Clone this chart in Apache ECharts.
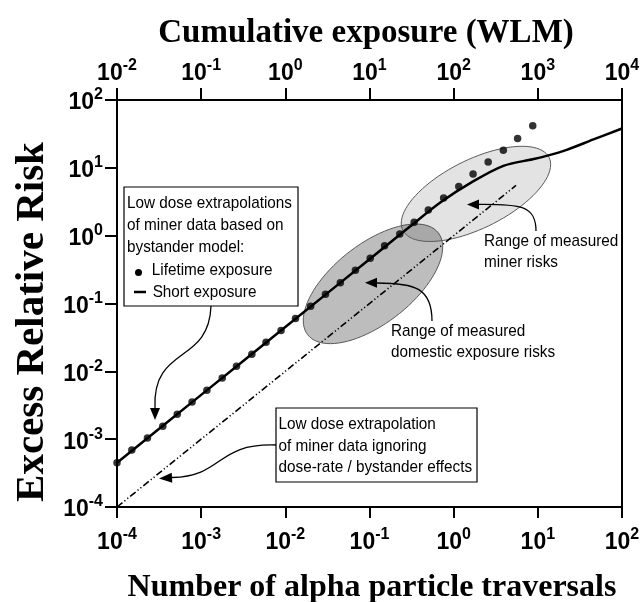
<!DOCTYPE html>
<html><head><meta charset="utf-8">
<script src="https://cdn.jsdelivr.net/npm/echarts@6/dist/echarts.min.js"></script>
<style>html,body{margin:0;padding:0;background:#fff}#c{width:644px;height:602px}</style>
</head><body><div id="c"></div>
<script>
// ---- data ----
const traversalTickLabels = ['-4','-3','-2','-1','0','1','2'];   // 10^n, alpha traversals
const wlmTickLabels = ['-2','-1','0','1','2','3','4'];           // 10^n, WLM
const riskTickLabels = ['-4','-3','-2','-1','0','1','2'];        // 10^n, ERR

// Lifetime exposure (dots)
const lifetimeX = [1.0e-4,1.5e-4,2.3e-4,3.5e-4,5.2e-4,7.8e-4,1.17e-3,1.78e-3,2.63e-3,4.0e-3,5.9e-3,8.9e-3,
  0.0132,0.020,0.030,0.045,0.068,0.102,0.151,0.229,0.339,0.50,0.76,1.15,1.70,2.57,3.89,5.75,8.7];
const lifetimeY = [4.5e-4,6.9e-4,1.04e-3,1.55e-3,2.33e-3,3.54e-3,5.26e-3,8.0e-3,0.0119,0.0179,0.0269,0.040,
  0.060,0.091,0.137,0.203,0.31,0.466,0.71,1.06,1.58,2.40,3.6,5.3,8.1,12.2,18.2,27.1,41.6];

// Short exposure (solid curve)
const shortX = [1e-4,1e-3,1e-2,0.1,0.3,0.7,1.7,3.9,8.7,12.7,22,45,100];
const shortY = [4.5e-4,4.5e-3,0.045,0.45,1.35,3.1,6.3,10.7,13.4,15.0,18.4,26,38];

// Extrapolation ignoring dose-rate / bystander effects
const linearX = [1e-4,5.5];
const linearY = [1e-4,5.5];

// Measured ranges: [centerX, centerY, majorTipX, majorTipY, minor/major]
const domesticRange = [0.11,0.195,0.656,1.10,0.48];
const minerRange = [1.84,4.13,13.6,14.2,0.42];

// ---- chart ----
const SANS = '"Liberation Sans", Arial, sans-serif';
const SERIF = '"Liberation Serif", "Times New Roman", serif';
function rich() {
  return {
    b: {fontFamily: SANS, fontWeight: 'bold', fontSize: 23, lineHeight: 26, padding: [6,0,0,0], color: '#000'},
    s: {fontFamily: SANS, fontWeight: 'bold', fontSize: 16, lineHeight: 16, verticalAlign: 'top', color: '#000'}
  };
}
function fmt(labels, minExp) {
  return function (v) {
    const e = Math.round(Math.log10(v));
    return '{b|10}{s|' + labels[e - minExp] + '}';
  };
}
const axisLineStyle = {lineStyle: {color: '#000', width: 2}};
const zip = (a, b) => a.map((v, i) => [v, b[i]]);

const chart = echarts.init(document.getElementById('c'), null, {renderer: 'canvas'});

function ellipseItem(params, api) {
  const c = api.coord([api.value(0), api.value(1)]);
  const t = api.coord([api.value(2), api.value(3)]);
  const dx = t[0] - c[0], dy = t[1] - c[1];
  const a = Math.hypot(dx, dy), ang = Math.atan2(dy, dx);
  const b = a * api.value(4);
  const pts = [];
  for (let k = 0; k < 90; k++) {
    const th = 2 * Math.PI * k / 90;
    const ex = a * Math.cos(th), ey = b * Math.sin(th);
    pts.push([c[0] + ex * Math.cos(ang) - ey * Math.sin(ang), c[1] + ex * Math.sin(ang) + ey * Math.cos(ang)]);
  }
  const fill = params.dataIndex === 0 ? 'rgba(0,0,0,0.26)' : 'rgba(0,0,0,0.11)';
  return {type: 'polygon', shape: {points: pts}, style: {fill: fill, stroke: '#5a5a5a', lineWidth: 1}};
}

const annFont = '17px ' + SANS;
function t(str, x, y) {
  return {type: 'text', z: 30, x: x, y: y, style: {text: str, font: annFont, fill: '#000', textVerticalAlign: 'middle'}};
}
function arrowHead(tip, dir, len, half) {
  const ux = dir[0], uy = dir[1];
  const bx = tip[0] - ux * len, by = tip[1] - uy * len;
  return {type: 'polygon', z: 20, shape: {points: [tip, [bx - uy * half, by + ux * half], [bx + uy * half, by - ux * half]]}, style: {fill: '#000'}};
}
function curve(x1, y1, c1x, c1y, c2x, c2y, x2, y2) {
  return {type: 'bezierCurve', z: 20, shape: {x1: x1, y1: y1, cpx1: c1x, cpy1: c1y, cpx2: c2x, cpy2: c2y, x2: x2, y2: y2},
    style: {stroke: '#000', lineWidth: 1.3, fill: null}};
}

chart.setOption({
  animation: false,
  backgroundColor: '#fff',
  grid: {left: 117, right: 22, top: 100, bottom: 95, show: true, borderColor: '#000', borderWidth: 2, containLabel: false},
  xAxis: [
    {type: 'log', logBase: 10, min: 1e-4, max: 100, splitNumber: 6, position: 'bottom',
      axisLine: axisLineStyle, axisTick: {show: true, inside: false, length: 11, lineStyle: {color: '#000', width: 2}},
      splitLine: {show: false}, minorTick: {show: false},
      axisLabel: {margin: 20, formatter: fmt(traversalTickLabels, -4), rich: rich()}},
    {type: 'log', logBase: 10, min: 1e-2, max: 1e4, splitNumber: 6, position: 'top',
      axisLine: axisLineStyle, axisTick: {show: true, inside: false, length: 12, lineStyle: {color: '#000', width: 2}},
      splitLine: {show: false}, minorTick: {show: false},
      axisLabel: {margin: 16, formatter: fmt(wlmTickLabels, -2), rich: rich()}}
  ],
  yAxis: {type: 'log', logBase: 10, min: 1e-4, max: 100, splitNumber: 6,
    axisLine: axisLineStyle, axisTick: {show: true, inside: false, length: 12, lineStyle: {color: '#000', width: 2}},
    splitLine: {show: false}, minorTick: {show: false},
    axisLabel: {margin: 14, formatter: fmt(riskTickLabels, -4), rich: rich()}},
  series: [
    {type: 'custom', name: 'ranges', xAxisIndex: 0, yAxisIndex: 0, z: 1,
      encode: {x: [0, 2], y: [1, 3]}, renderItem: ellipseItem, data: [domesticRange, minerRange], silent: true},
    {type: 'line', name: 'Ignoring bystander', z: 3, data: zip(linearX, linearY), showSymbol: false,
      lineStyle: {color: '#000', width: 1.6, type: [7, 2.5, 1.2, 2.5, 1.2, 2.5]}},
    {type: 'line', name: 'Short exposure', z: 4, data: zip(shortX, shortY), showSymbol: false, smooth: 0.3,
      lineStyle: {color: '#000', width: 2.5}},
    {type: 'scatter', name: 'Lifetime exposure', z: 5, data: zip(lifetimeX, lifetimeY), symbol: 'circle', symbolSize: 7.5,
      itemStyle: {color: '#000'}}
  ],
  graphic: [
    // axis titles
    {type: 'text', x: 366, y: 33, style: {text: 'Cumulative exposure (WLM)', font: 'bold 33px ' + SERIF, fill: '#000', textAlign: 'center', textVerticalAlign: 'middle'}},
    {type: 'text', x: 372, y: 588, style: {text: 'Number of alpha particle traversals', font: 'bold 32px ' + SERIF, fill: '#000', textAlign: 'center', textVerticalAlign: 'middle'}},
    {type: 'text', x: 32, y: 322, rotation: Math.PI / 2, style: {text: 'Excess Relative Risk', font: 'bold 41px ' + SERIF, fill: '#000', textAlign: 'center', textVerticalAlign: 'middle'}},
    // legend box
    {type: 'rect', z: 10, shape: {x: 124, y: 187, width: 174, height: 119}, style: {fill: '#fff', stroke: '#000', lineWidth: 1.2}},
    {type: 'group', z: 30, x: 127, y: 0, scaleX: 0.9, children: [
      t('Low dose extrapolations', 0, 203),
      t('of miner data based on', 0, 225),
      t('bystander model:', 0, 247),
      t('Lifetime exposure', 27.5, 270),
      t('Short exposure', 28.5, 292)
    ]},
    {type: 'circle', z: 30, shape: {cx: 138.5, cy: 272.5, r: 3.5}, style: {fill: '#000'}},
    {type: 'line', z: 30, shape: {x1: 134, y1: 292, x2: 146, y2: 292}, style: {stroke: '#000', lineWidth: 2.5}},
    // second box
    {type: 'rect', z: 10, shape: {x: 276, y: 408, width: 201, height: 74}, style: {fill: '#fff', stroke: '#000', lineWidth: 1.2}},
    {type: 'group', z: 30, x: 278.5, y: 0, scaleX: 0.9, children: [
      t('Low dose extrapolation', 0, 424),
      t('of miner data ignoring', 0, 446),
      t('dose-rate / bystander effects', 0, 467.5)
    ]},
    // range labels
    {type: 'group', z: 30, x: 484, y: 0, scaleX: 0.9, children: [
      t('Range of measured', 0, 241),
      t('miner risks', 0, 262)
    ]},
    {type: 'group', z: 30, x: 391, y: 0, scaleX: 0.9, children: [
      t('Range of measured', 0, 331),
      t('domestic exposure risks', 0, 352)
    ]},
    // arrows
    curve(211, 306, 209, 365, 152, 345, 155, 408),
    arrowHead([155, 420], [0, 1], 12, 5),
    curve(276, 445, 215, 443, 225, 476, 172, 477.5),
    arrowHead([159, 478.5], [-1, 0.05], 13, 5),
    curve(536, 231, 536, 205, 520, 204, 479, 204.3),
    arrowHead([467, 204.5], [-1, 0], 12, 5),
    curve(432, 321, 432, 288, 415, 283, 377, 283),
    arrowHead([365, 282.7], [-1, 0], 12, 5)
  ]
});
</script>
</body></html>
